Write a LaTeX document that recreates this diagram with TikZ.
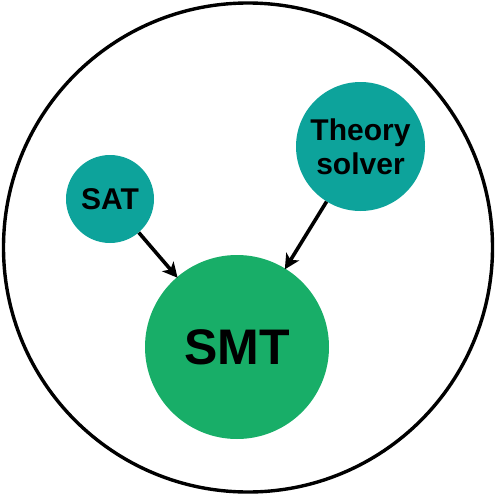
\documentclass[tikz,border=0pt]{standalone}
\usepackage{fontspec}
\setmainfont{Liberation Sans}
\usetikzlibrary{arrows.meta}
\definecolor{tealc}{RGB}{13,163,155}
\definecolor{greenc}{RGB}{24,174,104}
\tikzset{
  ball/.style={circle, inner sep=0pt, align=center, font=\bfseries},
  arr/.style={line width=3.6pt, -{Stealth[length=15pt, width=15pt, inset=4pt]}, shorten >=-1pt}
}
\begin{document}
\begin{tikzpicture}[x=1pt, y=-1pt]
\useasboundingbox (0,0) rectangle (495,495);
\node[circle, draw=black, line width=3.4pt, minimum size=489pt, inner sep=0pt] (outer) at (248,247.5) {};
\node[ball, fill=tealc, minimum size=88pt, font=\bfseries\fontsize{30}{34}\selectfont] (sat) at (110,199) {SAT};
\node[ball, fill=tealc, minimum size=129pt, font=\bfseries\fontsize{30}{34}\selectfont] (theory) at (360.5,146.5) {Theory\\solver};
\node[ball, fill=greenc, minimum size=184pt, font=\bfseries\fontsize{50}{56}\selectfont] (smt) at (237,347) {SMT};
\draw[arr] (sat) -- (smt);
\draw[arr] (theory) -- (smt);
\end{tikzpicture}
\end{document}
